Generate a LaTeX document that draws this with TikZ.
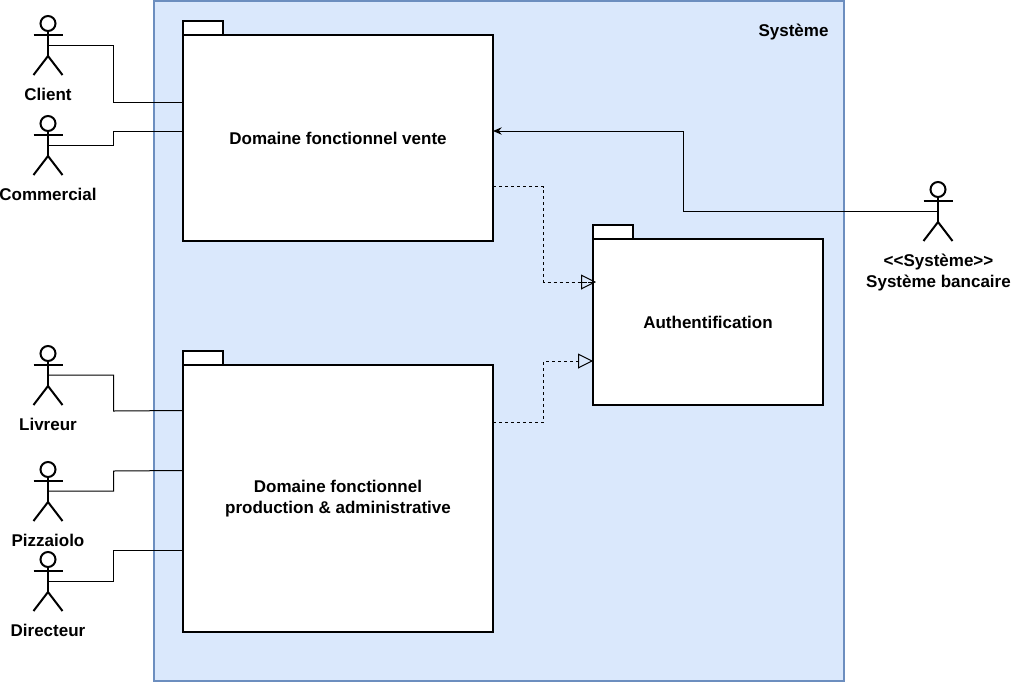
\documentclass[tikz,border=0pt]{standalone}
\usepackage{fontspec}
\setmainfont{Liberation Sans}
\usetikzlibrary{arrows.meta,calc}
\definecolor{sysfill}{HTML}{DAE8FC}
\definecolor{sysline}{HTML}{6C8EBF}
\tikzset{
  px/.style={x=0.75pt,y=-0.75pt},
  system/.style={draw=sysline,fill=sysfill,line width=1.5pt,anchor=north west,inner sep=0pt,outer sep=0pt,minimum width=517.5pt,minimum height=510pt},
  pkgbody/.style={draw=black,fill=white,line width=1.5pt,anchor=north west,inner sep=0pt,outer sep=0pt,align=center,font=\bfseries\fontsize{12.75}{15.75}\selectfont},
  pkgtab/.style={draw=black,fill=white,line width=1.5pt,anchor=north west,inner sep=0pt,outer sep=0pt,minimum width=30pt,minimum height=10.5pt},
  txt/.style={font=\bfseries\fontsize{12.75}{15.75}\selectfont,inner sep=0pt,align=center},
  actorline/.style={draw=black,line width=1.5pt},
  head/.style={draw=black,fill=white,line width=1.5pt,circle,inner sep=0pt,outer sep=0pt,minimum size=11.25pt},
  link/.style={draw=black,line width=0.75pt},
  usearrow/.style={link,-{Stealth[length=6.5pt,width=5.5pt]}},
  dep/.style={link,dash pattern=on 2.25pt off 2.25pt,-{Triangle[open,length=11.25pt,width=11.25pt,line width=0.75pt]}}
}
\newcommand{\umlactor}[5]{% name, x, y of head top, label, label y
  \node[head] (#1) at (#2,#3+7.5) {};
  \coordinate (#1-c) at (#2,#3+29);
  \draw[actorline] (#1.south) -- (#2,#3+40);
  \draw[actorline] (#2-14.5,#3+19) -- (#2+14.5,#3+19);
  \draw[actorline] (#2-14.5,#3+59) -- (#2,#3+40) -- (#2+14.5,#3+59);
  \node[txt] (#1-label) at (#2,#5) {#4};
}
\begin{document}
\begin{tikzpicture}[px]
\useasboundingbox (0,0) rectangle (1012,682);
\node[system] (sys) at (153.5,1) {};
\node[txt] (systitle) at (793.5,32) {Système};

\node[pkgtab] (ventetab) at (183,20.5) {};
\node[pkgbody,minimum width=232.5pt,minimum height=154.5pt] (vente) at (183,35) {Domaine fonctionnel vente};
\node[pkgtab] (prodtab) at (183,350.5) {};
\node[pkgbody,minimum width=232.5pt,minimum height=200.25pt] (prod) at (183,365) {Domaine fonctionnel\\production \& administrative};
\node[pkgtab] (authtab) at (593,224.5) {};
\node[pkgbody,minimum width=172.5pt,minimum height=124.5pt] (auth) at (593,239) {Authentification};

\umlactor{client}{48}{16}{Client}{94}
\umlactor{commercial}{48}{116}{Commercial}{194}
\umlactor{livreur}{48}{346}{Livreur}{424}
\umlactor{pizzaiolo}{48}{462}{Pizzaiolo}{540}
\umlactor{directeur}{48}{552}{Directeur}{630}
\umlactor{banque}{938}{182}{}{260}
\node[txt] (banquetxt) at (938.5,272.5) {<{}<Système>{}>\\Système bancaire};

\draw[link] (client-c) -- (113.5,45) -- (113.5,102) -- (vente.west |- 0,102);
\draw[link] (commercial-c) -- (113.5,145) -- (113.5,131) -- (vente.west |- 0,131);
\draw[link] (livreur-c) -- (113.5,375) -- (113.5,411) -- (prod.west |- 0,410.5);
\draw[link] (pizzaiolo-c) -- (113.5,491) -- (113.5,471) -- (prod.west |- 0,470.5);
\draw[link] (directeur-c) -- (113.5,581) -- (113.5,550.5) -- (prod.west |- 0,550.5);
\draw[usearrow] ($(banque-c)+(0,0.7)$) -- (683.5,211.7) -- (683.5,131) -- (vente.east |- 0,131);
\draw[dep] (vente.east |- 0,186.5) -- (543.5,186.5) -- (543.5,282) -- (auth.west |- 0,282) -- ++(3,0);
\draw[dep] (prod.east |- 0,422) -- (543.5,422) -- (543.5,361) -- (auth.west |- 0,361);
\end{tikzpicture}
\end{document}
